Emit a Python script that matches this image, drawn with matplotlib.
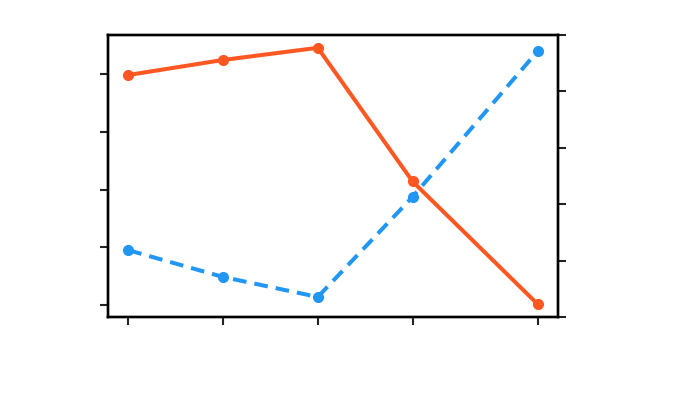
import matplotlib
matplotlib.use("Agg")
import matplotlib.pyplot as plt

x_values = [0, 1, 2, 3, 4.32]
orange_values = [39.8, 42.4, 44.5, 21.4, 0.2]
blue_values = [23.7, 14.2, 7.1, 42.6, 94.3]
left_ticks = [0, 10, 20, 30, 40]
right_ticks = [0, 20, 40, 60, 80, 100]
bottom_ticks = [0, 1, 2, 3, 4.32]

fig = plt.figure(figsize=(6.98, 4.19), dpi=100)
ax = fig.add_axes([0.1544, 0.2434, 0.6453, 0.6731])
ax2 = ax.twinx()
ax.set_zorder(ax2.get_zorder() + 1)
ax.patch.set_visible(False)

ax.plot(x_values, orange_values, color="#FF5722", lw=2.9, marker="o", ms=7, zorder=3)
ax2.plot(x_values, blue_values, color="#2196F3", lw=2.9, ls="--", marker="o", ms=7,
         dashes=(3.4, 2.0))

ax.set_yticks(left_ticks)
ax2.set_yticks(right_ticks)
ax2.set_ylim(0, 100)
ax.set_xticks(bottom_ticks)
for a in (ax, ax2):
    a.set_xticklabels([])
    a.set_yticklabels([])
    for s in a.spines.values():
        s.set_linewidth(1.7)
        s.set_color("black")
    a.tick_params(length=5.5, width=1.5, color="#222222")

fig.savefig("out.png", dpi=100)
